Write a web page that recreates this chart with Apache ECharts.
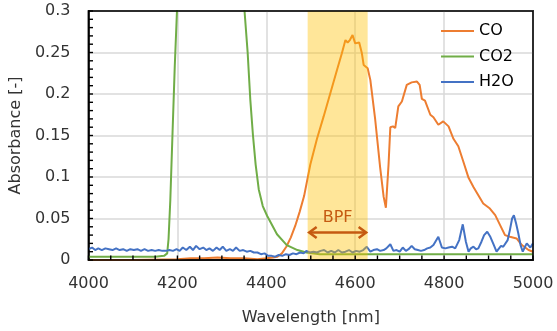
<!DOCTYPE html>
<html><head><meta charset="utf-8">
<script src="https://cdn.jsdelivr.net/npm/echarts@6/dist/echarts.min.js"></script>
<style>html,body{margin:0;padding:0;background:#fff}#c{width:557px;height:331px}</style>
</head><body><div id="c"></div>
<script>
const coWavelength = [4000,4100,4200,4230,4260,4290,4320,4350,4380,4400,4415,4425,4435,4445,4455,4465,4475,4485,4499,4514,4529,4544,4559,4570,4578,4583,4588,4594,4600,4609,4615,4619,4628,4634,4645,4656,4664,4669,4675,4679,4685,4690,4697,4705,4716,4727,4739,4745,4750,4757,4769,4776,4787,4798,4810,4821,4832,4843,4855,4866,4877,4888,4903,4915,4926,4937,4948,4963,4975,4990,5000];
const coAbsorbance = [0.000,0.000,0.001,0.002,0.002,0.003,0.002,0.002,0.001,0.002,0.003,0.004,0.008,0.016,0.027,0.041,0.058,0.077,0.115,0.146,0.173,0.201,0.229,0.249,0.265,0.262,0.265,0.271,0.261,0.262,0.249,0.235,0.231,0.217,0.169,0.112,0.076,0.063,0.115,0.160,0.161,0.159,0.185,0.191,0.211,0.214,0.215,0.211,0.194,0.192,0.175,0.172,0.163,0.167,0.161,0.146,0.137,0.119,0.099,0.088,0.078,0.068,0.062,0.054,0.042,0.030,0.028,0.026,0.018,0.012,0.010];

const co2Wavelength = [4000,4050,4100,4150,4170,4177,4180,4184,4189,4194,4199,4205,4220,4330,4346,4351,4358,4364,4370,4376,4383,4392,4402,4412,4424,4446,4470,4490,4520,4600,4700,4800,4900,5000];
const co2Absorbance = [0.004,0.004,0.004,0.004,0.005,0.008,0.025,0.072,0.153,0.233,0.300,0.400,0.800,0.800,0.400,0.300,0.250,0.193,0.150,0.115,0.085,0.065,0.053,0.043,0.031,0.018,0.012,0.009,0.007,0.007,0.007,0.007,0.007,0.007];

const h2oWavelength = [4000,4008,4015,4022,4030,4038,4046,4054,4062,4070,4078,4086,4094,4102,4110,4118,4126,4134,4142,4150,4158,4166,4174,4182,4190,4198,4205,4212,4220,4228,4235,4242,4250,4258,4265,4272,4280,4288,4295,4302,4310,4318,4325,4332,4340,4348,4356,4364,4372,4380,4388,4396,4404,4412,4420,4428,4436,4444,4452,4460,4468,4476,4484,4490,4498,4506,4514,4522,4530,4538,4546,4554,4562,4570,4578,4586,4594,4602,4610,4618,4626,4634,4641,4649,4656,4664,4670,4679,4686,4693,4700,4707,4714,4720,4727,4734,4741,4748,4755,4762,4769,4776,4787,4795,4803,4810,4818,4825,4834,4842,4849,4855,4860,4866,4872,4877,4884,4890,4897,4904,4911,4918,4922,4928,4933,4937,4943,4948,4953,4957,4962,4967,4972,4977,4982,4986,4990,4994,5000];
const h2oAbsorbance = [0.013,0.015,0.012,0.014,0.012,0.014,0.013,0.012,0.014,0.012,0.013,0.011,0.013,0.012,0.013,0.011,0.013,0.011,0.012,0.011,0.012,0.011,0.011,0.012,0.011,0.013,0.011,0.015,0.012,0.016,0.012,0.017,0.013,0.015,0.012,0.014,0.011,0.015,0.012,0.016,0.011,0.013,0.011,0.015,0.011,0.012,0.010,0.011,0.009,0.009,0.007,0.008,0.005,0.005,0.004,0.006,0.005,0.007,0.006,0.008,0.007,0.009,0.008,0.011,0.009,0.010,0.009,0.011,0.012,0.009,0.011,0.009,0.012,0.009,0.010,0.012,0.009,0.011,0.010,0.012,0.016,0.010,0.012,0.013,0.011,0.012,0.014,0.019,0.011,0.012,0.010,0.015,0.011,0.013,0.017,0.013,0.012,0.011,0.012,0.014,0.015,0.018,0.028,0.015,0.014,0.015,0.016,0.014,0.024,0.043,0.022,0.010,0.014,0.016,0.013,0.014,0.022,0.030,0.034,0.028,0.019,0.010,0.008,0.017,0.016,0.014,0.024,0.036,0.050,0.054,0.044,0.032,0.018,0.010,0.016,0.020,0.018,0.015,0.020];

const seriesNames = ['CO','CO2','H2O'];
const seriesColors = ['#ED7D31','#70AD47','#4472C4'];
const bpfRange = [4493, 4628];
const bpfArrowY = 0.033;
const bpfLabelY = 0.051;
const xMin = 4000, xMax = 5000, xStep = 200, xMinorStep = 50;
const yMin = 0, yMax = 0.3, yStep = 0.05, yMinorStep = 0.01;

function pairs(xs, ys){ return xs.map((x,i)=>[x, ys[i]]); }
const font = 'DejaVu Sans';
const txtColor = '#333';

const xTickValues = [];
for (let k = 0; xMin + k*xMinorStep <= xMax; k++) xTickValues.push(xMin + k*xMinorStep);
const yTickValues = [];
for (let k = 0; k*yMinorStep <= yMax + 1e-9; k++) yTickValues.push(+(k*yMinorStep).toFixed(3));

const chart = echarts.init(document.getElementById('c'));
const lineSeries = [
  pairs(coWavelength, coAbsorbance),
  pairs(co2Wavelength, co2Absorbance),
  pairs(h2oWavelength, h2oAbsorbance)
].map((d,i)=>({
  name: seriesNames[i], type:'line', data:d, symbol:'none', showSymbol:false,
  lineStyle:{color:seriesColors[i], width:2}, itemStyle:{color:seriesColors[i]},
  clip:true, z:2, silent:true
}));

const arrowColor = '#C55A11';
const bpfSeries = {
  type:'custom', name:'BPF', z:5, silent:true,
  data:[[bpfRange[0], bpfRange[1]]],
  renderItem:function(params, api){
    const tl = api.coord([bpfRange[0], yMax]);
    const br = api.coord([bpfRange[1], yMin]);
    const a0 = api.coord([bpfRange[0], bpfArrowY]);
    const a1 = api.coord([bpfRange[1], bpfArrowY]);
    const lc = api.coord([(bpfRange[0]+bpfRange[1])/2, bpfLabelY]);
    const hl = 9, hw = 5.5;
    const st = {stroke:arrowColor, lineWidth:2.5, fill:null, lineJoin:'miter'};
    return {type:'group', children:[
      {type:'rect', shape:{x:tl[0], y:tl[1], width:br[0]-tl[0], height:br[1]-tl[1]}, style:{fill:'rgba(255,192,0,0.4)'}},
      {type:'line', shape:{x1:a0[0]+1.5, y1:a0[1], x2:a1[0]-1.5, y2:a1[1]}, style:st},
      {type:'polyline', shape:{points:[[a0[0]+hl, a0[1]-hw],[a0[0]+1.5, a0[1]],[a0[0]+hl, a0[1]+hw]]}, style:st},
      {type:'polyline', shape:{points:[[a1[0]-hl, a1[1]-hw],[a1[0]-1.5, a1[1]],[a1[0]-hl, a1[1]+hw]]}, style:st},
      {type:'text', x:lc[0], y:lc[1], style:{text:'BPF', fill:arrowColor, font:'16px "DejaVu Sans"', align:'center', verticalAlign:'middle'}}
    ]};
  }
};

// plot frame and inside tick marks, placed through the axis scales
const frameSeries = {
  type:'custom', name:'frame', z:6, silent:true,
  data:[[xMin, yMin]],
  renderItem:function(params, api){
    const len = 4.5, st = {stroke:'#000', lineWidth:1.4};
    const kids = [];
    const tl = api.coord([xMin, yMax]), br = api.coord([xMax, yMin]);
    kids.push({type:'rect', shape:{x:tl[0], y:tl[1], width:br[0]-tl[0], height:br[1]-tl[1]}, style:{stroke:'#000', lineWidth:1.5, fill:null}});
    xTickValues.forEach(v=>{
      const p = api.coord([v, yMin]);
      kids.push({type:'line', shape:{x1:p[0], y1:p[1], x2:p[0], y2:p[1]-len}, style:st});
    });
    yTickValues.forEach(v=>{
      const p = api.coord([xMin, v]);
      kids.push({type:'line', shape:{x1:p[0], y1:p[1], x2:p[0]+len, y2:p[1]}, style:st});
    });
    return {type:'group', children:kids};
  }
};

const option = {
  animation:false,
  grid:{left:88, right:24, top:11, bottom:71, show:true, borderColor:'#000', borderWidth:1.5, backgroundColor:'transparent'},
  legend:{
    data:seriesNames, orient:'vertical', left:436, top:18, itemWidth:33, itemHeight:2, itemGap:9.5, icon:'rect',
    textStyle:{fontSize:16, color:'#000', fontFamily:font}
  },
  xAxis:{
    type:'value', min:xMin, max:xMax, interval:xStep,
    name:'Wavelength [nm]', nameLocation:'middle', nameGap:50,
    nameTextStyle:{fontSize:16, color:txtColor, fontFamily:font},
    axisLine:{show:true, onZero:false, lineStyle:{color:'#000', width:1.5}},
    axisTick:{show:false}, minorTick:{show:false},
    splitLine:{show:true, lineStyle:{color:'#d9d9d9', width:1.5}},
    axisLabel:{margin:16, fontSize:16, color:txtColor, fontFamily:font, formatter:v=>String(v)}
  },
  yAxis:{
    type:'value', min:yMin, max:yMax, interval:yStep,
    name:'Absorbance [-]', nameLocation:'middle', nameGap:59, nameRotate:90,
    nameTextStyle:{fontSize:16, color:txtColor, fontFamily:font},
    axisLine:{show:true, onZero:false, lineStyle:{color:'#000', width:1.5}},
    axisTick:{show:false}, minorTick:{show:false},
    splitLine:{show:true, lineStyle:{color:'#d9d9d9', width:1.5}},
    axisLabel:{margin:18, fontSize:16, color:txtColor, fontFamily:font}
  },
  series: lineSeries.concat([bpfSeries, frameSeries])
};
chart.setOption(option);
</script></body></html>
